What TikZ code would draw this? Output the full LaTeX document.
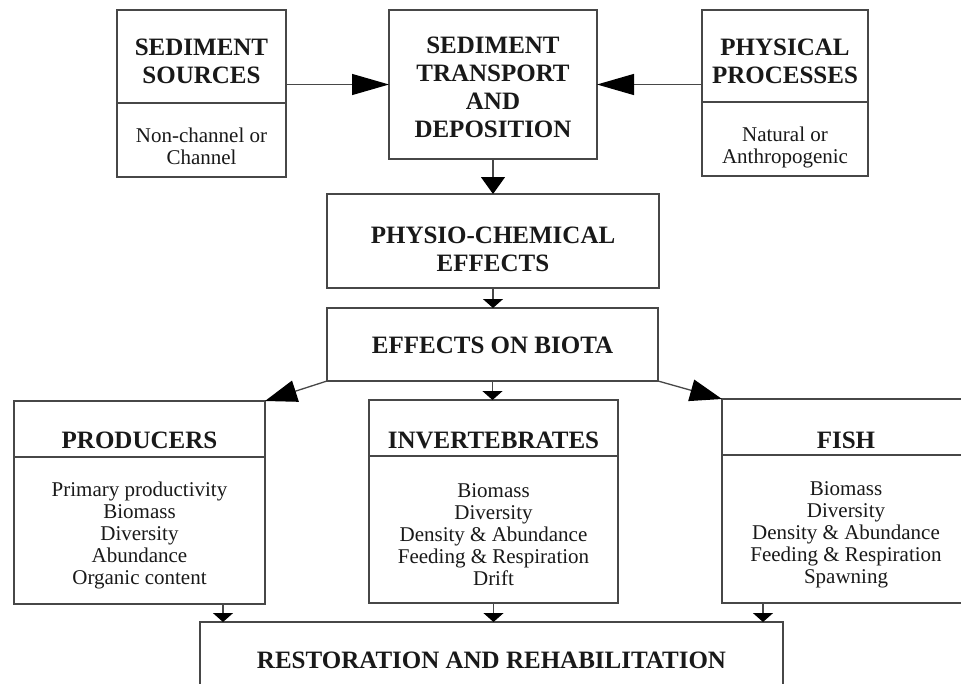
\documentclass[tikz,border=0pt]{standalone}
\usepackage{fontspec}
\setmainfont{Liberation Serif}
\usetikzlibrary{arrows.meta}
\begin{document}
\begin{tikzpicture}[x=1pt,y=-1pt,
  box/.style={draw=black!72, line width=1.3pt, inner sep=0pt, outer sep=0pt},
  divider/.style={draw=black!72, line width=1.3pt},
  head/.style={font=\bfseries\fontsize{25}{28}\selectfont, align=center, inner sep=0pt, text=black!90},
  body/.style={font=\fontsize{21}{22}\selectfont, align=center, inner sep=0pt, text=black!90},
  conn/.style={draw=black!72, line width=1.3pt},
  bigtip/.style={-{Triangle[length=37pt,width=21pt,color=black]}},
  midtip/.style={-{Triangle[length=17pt,width=24pt,color=black]}},
  diagtip/.style={-{Triangle[length=32pt,width=22pt,color=black]}},
  smalltip/.style={-{Triangle[length=9pt,width=20pt,color=black]}}
]
\useasboundingbox (0,0) rectangle (961,683);
\clip (0,0) rectangle (961,683);
\fill[white] (0,0) rectangle (961,683);

% boxes
\node[box, minimum width=169pt, minimum height=167pt] (src) at (201.5,93.5) {};
\node[box, minimum width=208pt, minimum height=149pt] (trans) at (493,84.5) {};
\node[box, minimum width=166pt, minimum height=166pt] (phys) at (785,93) {};
\node[box, minimum width=332pt, minimum height=94pt] (physio) at (493,241) {};
\node[box, minimum width=331pt, minimum height=73pt] (biota) at (492.5,344.5) {};
\node[box, minimum width=251pt, minimum height=203pt] (prod) at (139.5,502.5) {};
\node[box, minimum width=249pt, minimum height=203pt] (inv) at (493.5,501.5) {};
\node[box, minimum width=248pt, minimum height=204pt] (fish) at (846,501) {};
\node[box, minimum width=583pt, minimum height=78pt] (resto) at (491.5,661) {};

% dividers
\draw[divider] (src.west |- 0,103) -- (src.east |- 0,103);
\draw[divider] (phys.west |- 0,102) -- (phys.east |- 0,102);
\draw[divider] (prod.west |- 0,457) -- (prod.east |- 0,457);
\draw[divider] (inv.west |- 0,456) -- (inv.east |- 0,456);
\draw[divider] (fish.west |- 0,455) -- (fish.east |- 0,455);

% texts
\node[head] (srch) at (201.5,61) {SEDIMENT\\SOURCES};
\node[body] (srcb) at (201.5,146) {Non-channel or\\Channel};
\node[head] (transh) at (493,87) {SEDIMENT\\TRANSPORT\\AND\\DEPOSITION};
\node[head] (physh) at (785,61) {PHYSICAL\\PROCESSES};
\node[body] (physb) at (785,147) {Natural or\\Anthropogenic};
\node[head] (physioh) at (493,249) {PHYSIO-CHEMICAL\\EFFECTS};
\node[head] (biotah) at (492.5,345) {EFFECTS ON BIOTA};
\node[head] (prodh) at (139.5,440) {PRODUCERS};
\node[head] (invh) at (493.5,440) {INVERTEBRATES};
\node[head] (fishh) at (846,440) {FISH};
\node[body] (prodb) at (139.5,535) {Primary productivity\\Biomass\\Diversity\\Abundance\\Organic content};
\node[body] (invb) at (493.5,535) {Biomass\\Diversity\\Density \& Abundance\\Feeding \& Respiration\\Drift};
\node[body] (fishb) at (846,535) {Biomass\\Diversity\\Density \& Abundance\\Feeding \& Respiration\\Spawning};
\node[head] (restoh) at (491.5,660) {RESTORATION AND REHABILITATION};

% connectors
\draw[conn,bigtip] (src.east |- trans.west) -- (trans.west);
\draw[conn,bigtip] (phys.west |- trans.east) -- (trans.east);
\draw[conn,midtip] (trans.south) -- (physio.north);
\draw[conn,smalltip] (physio.south) -- (physio.south |- biota.north);
\draw[conn,smalltip] (biota.south) -- (biota.south |- inv.north);
\draw[conn,diagtip] (biota.south west) -- (prod.north east);
\draw[conn,diagtip] (biota.south east) -- (fish.north west);
\coordinate (pb) at ([xshift=-42pt]prod.south east);
\coordinate (fb) at ([xshift=41pt]fish.south west);
\draw[conn,smalltip] (pb) -- (pb |- resto.north);
\draw[conn,smalltip] (inv.south) -- (inv.south |- resto.north);
\draw[conn,smalltip] (fb) -- (fb |- resto.north);
\end{tikzpicture}
\end{document}
